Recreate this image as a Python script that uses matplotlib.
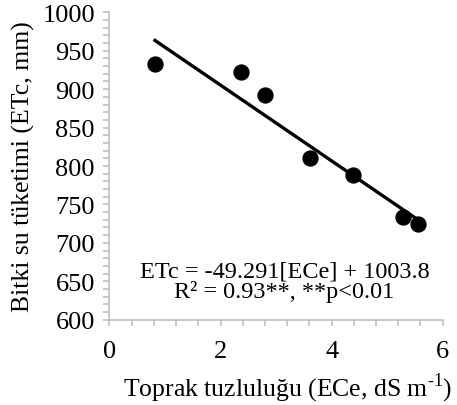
import numpy as np
import matplotlib
matplotlib.use("Agg")
from matplotlib import pyplot as plt
from matplotlib.ticker import MultipleLocator

# soil salinity (ECe, dS/m) and crop water use (ETc, mm)
ece = [0.82, 2.36, 2.80, 3.61, 4.38, 5.29, 5.56]
etc = [933, 922, 893, 811, 788, 734, 725]
# regression shown on the chart
slope = -49.291
intercept = 1003.8
x_ticks = [0, 2, 4, 6]
y_ticks = [600, 650, 700, 750, 800, 850, 900, 950, 1000]

plt.rcParams['font.family'] = ['Liberation Serif', 'DejaVu Serif']
plt.rcParams['mathtext.fontset'] = 'custom'
plt.rcParams['mathtext.rm'] = 'Liberation Serif'

axis_grey = "#BFBFBF"

fig = plt.figure(figsize=(4.57, 4.06), dpi=100)
ax = fig.add_axes([0.2396, 0.2101, 0.7291, 0.7571])

# data points
ax.scatter(ece, etc, s=115, color="black", zorder=3)
# fitted line over the range of the data
fit_x = np.array([min(ece), max(ece)])
ax.plot(fit_x, slope * fit_x + intercept, color="black", linewidth=2.4, zorder=2)

ax.set_xlim(0, 6)
ax.set_ylim(600, 1000)
ax.set_xticks(x_ticks)
ax.set_yticks(y_ticks)
ax.xaxis.set_minor_locator(MultipleLocator(0.4))
ax.yaxis.set_minor_locator(MultipleLocator(10))

# only left and bottom spines, light grey like the original
for side in ["top", "right"]:
    ax.spines[side].set_visible(False)
for side in ["left", "bottom"]:
    ax.spines[side].set_color(axis_grey)
    ax.spines[side].set_linewidth(1.2)
ax.tick_params(which="both", direction="out", color=axis_grey, width=1.2, length=4.5, labelsize=19)
ax.tick_params(axis="x", which="major", pad=10)
ax.tick_params(axis="y", which="major", pad=6)

ax.set_ylabel("Bitki su tüketimi (ETc, mm)", fontsize=18.5, labelpad=5)
ax.set_xlabel(r"Toprak tuzluluğu (ECe, dS m$^{\text{-1}}$)", fontsize=18.5, labelpad=6)
ax.xaxis.label.set_x(0.536)

# regression equation
ax.text(0.525, 0.125, "ETc = -49.291[ECe] + 1003.8\nR² = 0.93**, **p<0.01",
        transform=ax.transAxes, ha="center", va="center", fontsize=17.5, linespacing=0.95)

plt.savefig("out.png", dpi=100)
